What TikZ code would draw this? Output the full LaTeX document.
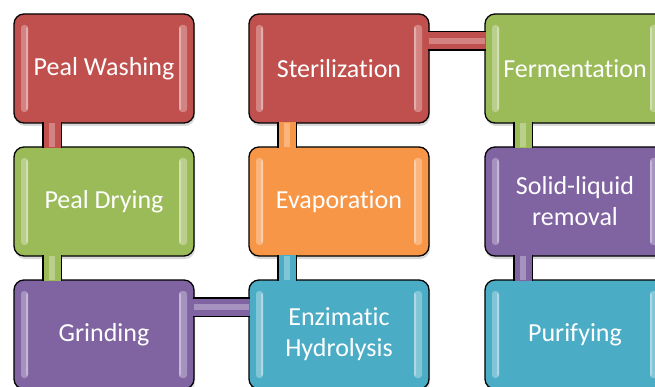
\documentclass[tikz,border=0pt]{standalone}
\usepackage{fontspec}
\setmainfont{Carlito}[Ligatures={NoCommon}]
\usetikzlibrary{calc,shadows}
\definecolor{cred}{HTML}{C0504D}
\definecolor{cgreen}{HTML}{9BBB59}
\definecolor{cpurple}{HTML}{8064A2}
\definecolor{caqua}{HTML}{4BACC6}
\definecolor{corange}{HTML}{F79646}
\tikzset{
  stage/.style={draw=black, line width=1.3pt, rounded corners=10pt,
    minimum width=180pt, minimum height=109pt, inner sep=0pt, outer sep=0pt,
    anchor=north west, text=white, font=\fontsize{26}{31}\selectfont, align=center,
    drop shadow={opacity=0.3, shadow xshift=1pt, shadow yshift=-3pt},
    path picture={
      \fill[white, opacity=0.3, rounded corners=3pt]
        ([xshift=7pt,yshift=-11pt]path picture bounding box.north west) rectangle
        ([xshift=14pt,yshift=11pt]path picture bounding box.south west);
      \fill[white, opacity=0.35, rounded corners=2pt]
        ([xshift=12pt,yshift=-13pt]path picture bounding box.north west) rectangle
        ([xshift=14pt,yshift=13pt]path picture bounding box.south west);
      \fill[white, opacity=0.3, rounded corners=3pt]
        ([xshift=-7pt,yshift=-11pt]path picture bounding box.north east) rectangle
        ([xshift=-15pt,yshift=11pt]path picture bounding box.south east);
      \fill[white, opacity=0.35, rounded corners=2pt]
        ([xshift=-13pt,yshift=-13pt]path picture bounding box.north east) rectangle
        ([xshift=-15pt,yshift=13pt]path picture bounding box.south east);
    }},
  link/.style={draw=black, line width=1.3pt, double distance=17pt},
  linkshine/.style={draw=white, line width=6pt, opacity=0.3},
}
\begin{document}
\begin{tikzpicture}[x=1pt,y=1pt]
\useasboundingbox (0,0) rectangle (655,386);
\clip (0,0) rectangle (655,386);
\node[stage, fill=cred]    (pw) at (14,372)  {Peal Washing};
\node[stage, fill=cgreen]  (pd) at (14,239)  {Peal Drying};
\node[stage, fill=cpurple] (gr) at (14,106)  {Grinding};
\node[stage, fill=caqua]   (eh) at (249,106) {Enzimatic\\Hydrolysis};
\node[stage, fill=corange] (ev) at (249,239) {Evaporation};
\node[stage, fill=cred]    (st) at (249,372) {Sterilization};
\node[stage, fill=cgreen]  (fe) at (485,372) {Fermentation};
\node[stage, fill=cpurple] (sl) at (485,239) {Solid-liquid\\removal};
\node[stage, fill=caqua]   (pu) at (485,106) {Purifying};
% connectors (vertical)
\foreach \u/\l/\c in {pw/pd/cred, pd/gr/cgreen, st/ev/corange, ev/eh/caqua, fe/sl/cgreen, sl/pu/cpurple}{
  \draw[link, double=\c] ($(\u.south west)+(38,1)$) -- ($(\l.north west)+(38,-1)$);
  \draw[linkshine] ($(\u.south west)+(38,0)$) -- ($(\l.north west)+(38,0)$);
}
% connectors (horizontal)
\foreach \a/\b/\c in {gr/eh/cpurple, st/fe/cred}{
  \draw[link, double=\c] ($(\a.north east)+(-1,-27)$) -- ($(\b.north west)+(1,-27)$);
  \draw[linkshine] ($(\a.north east)+(0,-27)$) -- ($(\b.north west)+(0,-27)$);
}
\end{tikzpicture}
\end{document}
